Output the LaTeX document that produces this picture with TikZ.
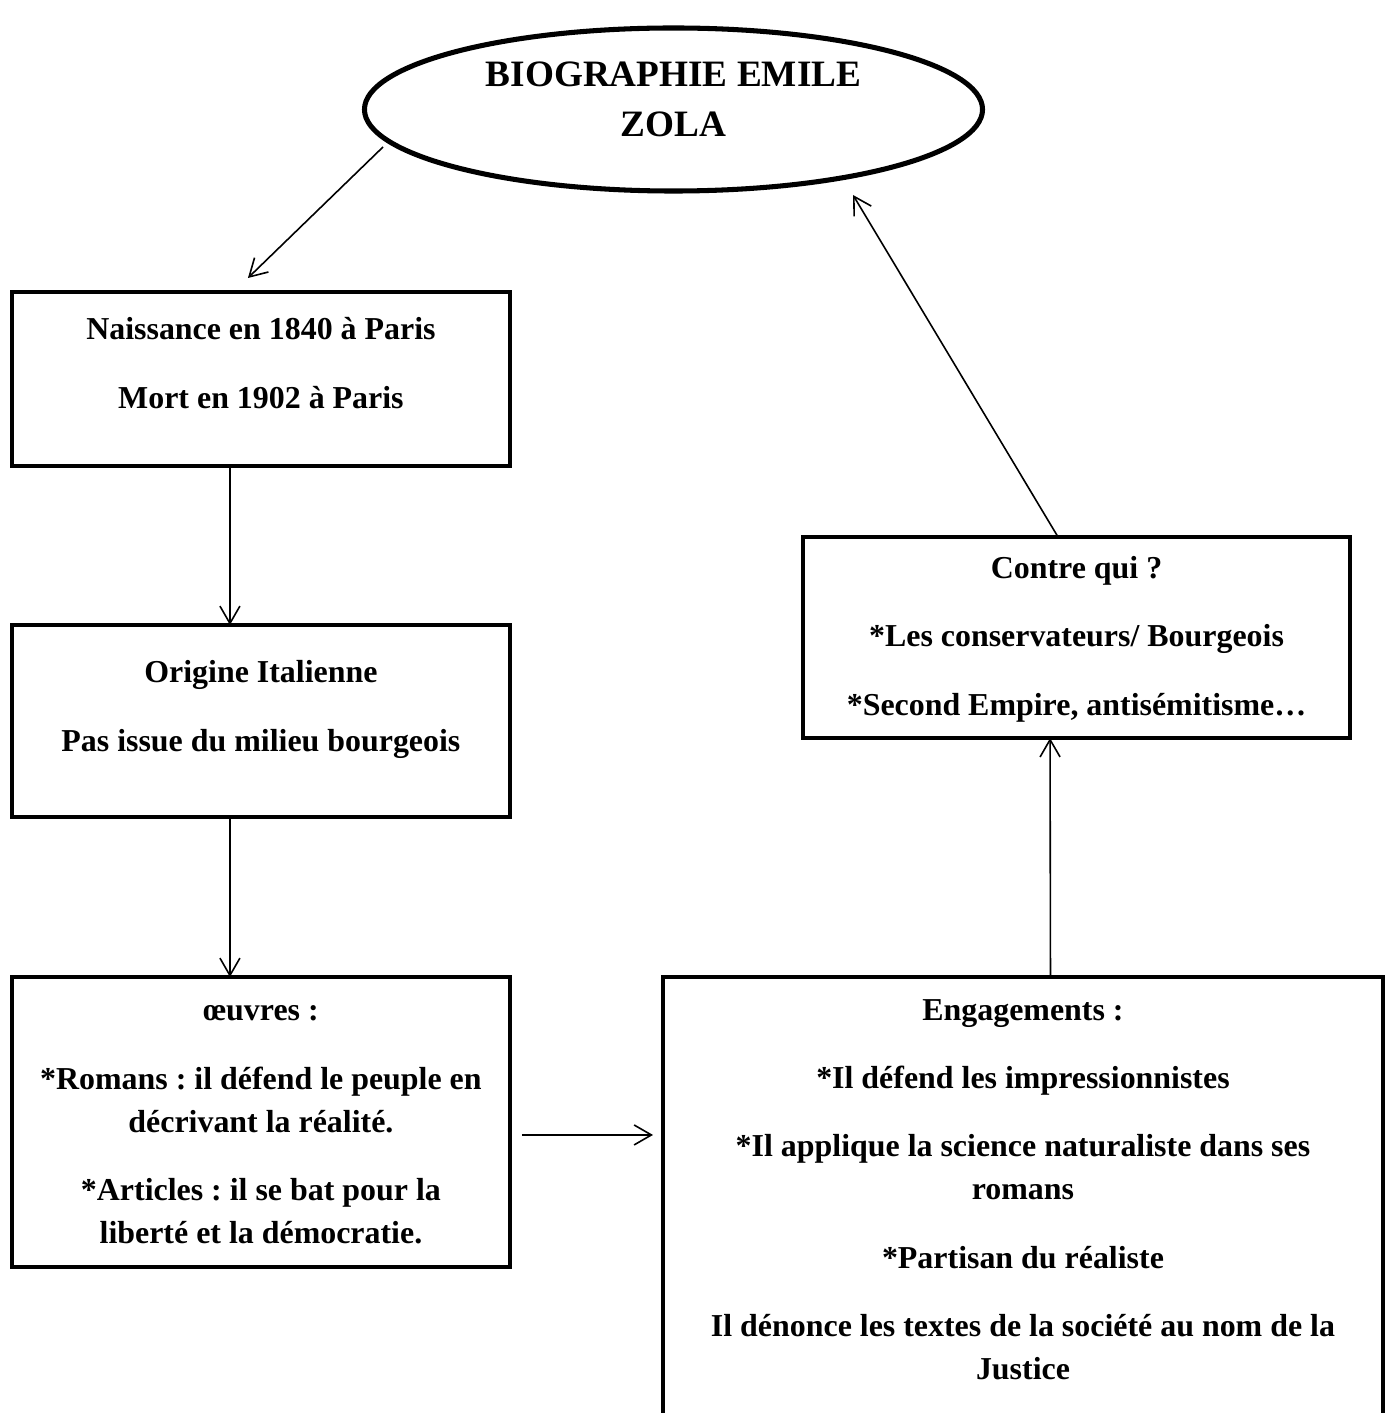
\documentclass[tikz,border=0pt]{standalone}
\usepackage{fontspec}
\setmainfont{Liberation Serif}
\usetikzlibrary{
  arrows.meta,
  shapes.geometric,
  calc
}
\frenchspacing
\newcommand{\corps}{\fontsize{12}{16.2}\selectfont\bfseries}
\newcommand{\titre}{\fontsize{14}{18.8}\selectfont\bfseries}

\begin{document}
\begin{tikzpicture}[
  x=0.376pt,
  y=-0.376pt,
  title/.style={
    draw,
    ellipse,
    line width=1.9pt,
    inner sep=0pt,
    outer sep=0pt,
    minimum width=232.4pt,
    minimum height=61.3pt
  },
  box/.style={
    draw,
    rectangle,
    line width=1.7pt,
    inner sep=0pt,
    outer sep=0pt,
    anchor=north west
  },
  link/.style={
    ->,
    line width=0.6pt
  },
  >={Straight Barb[length=6.5pt,width=7.5pt]}
]

\useasboundingbox (0,0) rectangle (1397,1413);
\clip (0,0) rectangle (1397,1413);

% Title
\node[title] (zola) at (673.5,109.5) {\parbox[c][40pt][t]{150pt}{\centering\titre
  \rule{0pt}{11.4pt}BIOGRAPHIE EMILE\\ZOLA}};

% Left column
\node[box] (naissance) at (12,292) {\parbox[c][65.4pt][t]{187.2pt}{\centering\corps
  \rule{0pt}{18pt}Naissance en 1840 à Paris\\[9.5pt]
  Mort en 1902 à Paris}};
\node[box] (origine) at (12,625) {\parbox[c][72.2pt][t]{187.2pt}{\centering\corps
  \rule{0pt}{21.8pt}Origine Italienne\\[9.5pt]
  Pas issue du milieu bourgeois}};
\node[box] (oeuvres) at (12,977) {\parbox[c][109pt][t]{187.2pt}{\centering\corps
  \rule{0pt}{16.5pt}œuvres :\\[9.5pt]
  *Romans : il défend le peuple en\\décrivant la réalité.\\[9.5pt]
  *Articles : il se bat pour la\\liberté et la démocratie.}};

% Right column
\node[box] (engagements) at (663,977) {\parbox[c][176.7pt][t]{270.7pt}{\centering\corps
  \rule{0pt}{16.2pt}Engagements :\\[9.5pt]
  *Il défend les impressionnistes\\[9.5pt]
  *Il applique la science naturaliste dans ses\\romans\\[9.5pt]
  *Partisan du réaliste\\[9.5pt]
  Il dénonce les textes de la société au nom de la\\Justice}};
\node[box] (contre) at (803,537) {\parbox[c][75.6pt][t]{205.7pt}{\centering\corps
  \rule{0pt}{15.6pt}Contre qui ?\\[9.5pt]
  *Les conservateurs/ Bourgeois\\[9.5pt]
  *Second Empire, antisémitisme…}};

% Links
\draw[link] ([shift={(-290.5,37.5)}]zola.center) -- ([shift={(-13,-14)}]naissance.north);
\draw[link] ([shift={(-31,0)}]naissance.south) -- ([shift={(-31,0)}]origine.north);
\draw[link] ([shift={(-31,0)}]origine.south) -- ([shift={(-31,0)}]oeuvres.north);
\draw[link] ([shift={(12,13)}]oeuvres.east) -- ($(oeuvres.east -| engagements.west)+(-10,13)$);
\draw[link] ([shift={(27.5,0)}]engagements.north) -- ([shift={(-26.5,0)}]contre.south);
\draw[link] ([shift={(-18.5,0)}]contre.north) -- ([shift={(179.5,85.5)}]zola.center);

\end{tikzpicture}
\end{document}
